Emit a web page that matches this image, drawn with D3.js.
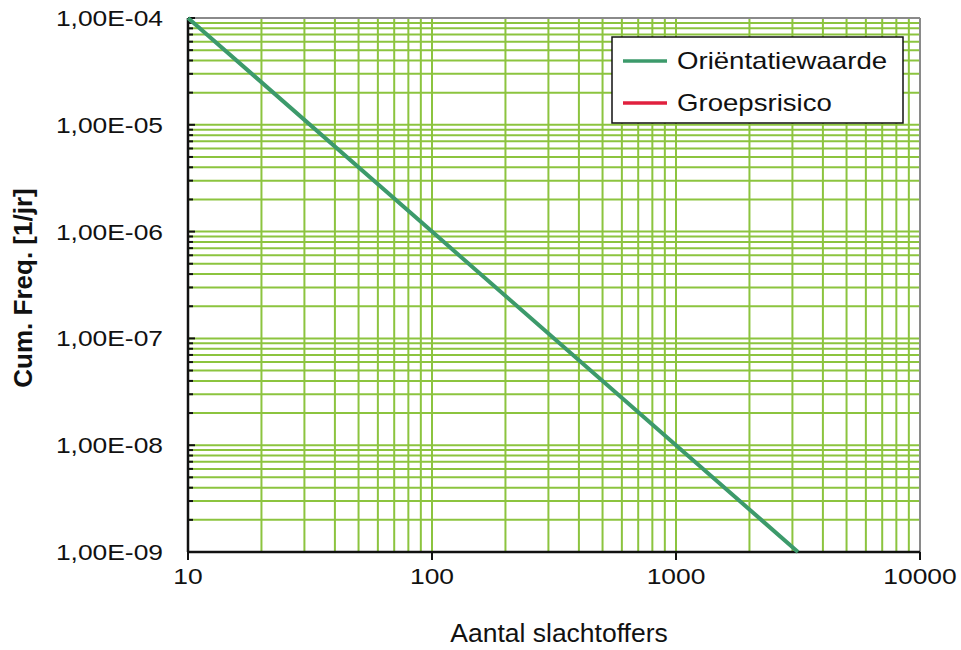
<!DOCTYPE html>
<html>
<head>
<meta charset="utf-8">
<script src="https://cdn.jsdelivr.net/npm/d3@7"></script>
<style>
  body { margin: 0; background: #fff; }
  text { font-family: "Liberation Sans", Arial, sans-serif; }
</style>
</head>
<body>
<div id="chart"></div>
<script>
// Chart data
const slachtoffers = [10, 100, 1000, 3162];
const orientatieFreq = [1e-4, 1e-6, 1e-8, 1e-9];
const groepsrisicoFreq = []; // no points visible in the chart
const xTicks = [10, 100, 1000, 10000];
const yTicks = [1e-4, 1e-5, 1e-6, 1e-7, 1e-8, 1e-9];
const seriesNames = ["Oriëntatiewaarde", "Groepsrisico"];
const seriesColors = ["#3c9a6b", "#e0203e"];

const margin = { top: 18, right: 41, bottom: 98, left: 188 },
    totalW = 961, totalH = 650,
    width = totalW - margin.left - margin.right,
    height = totalH - margin.top - margin.bottom;

const svg = d3.select("#chart")
    .append("svg")
    .attr("width", totalW)
    .attr("height", totalH)
    .append("g")
    .attr("transform", `translate(${margin.left},${margin.top})`);

const x = d3.scaleLog().domain([10, 10000]).range([0, width]);
const y = d3.scaleLog().domain([1e-9, 1e-4]).range([height, 0]);

// the scanned chart has slightly wide text, stretch it a bit
function addText(parent, px, py, str, size, sx, anchor) {
    return parent.append("text")
        .attr("transform", `translate(${px},${py}) scale(${sx},1)`)
        .attr("text-anchor", anchor)
        .style("font-size", size + "px")
        .attr("fill", "#111")
        .text(str);
}

// minor + major grid values
const xGrid = [];
for (let d = 10; d < 10000; d *= 10) for (let k = 1; k <= 9; k++) xGrid.push(d * k);
const yGrid = [];
for (let e = -9; e < -4; e++) for (let k = 1; k <= 9; k++) yGrid.push(k * Math.pow(10, e));

const gridColor = "#8cc43f";

svg.append("g").selectAll("line")
    .data(xGrid.filter(v => v > 10))
    .join("line")
    .attr("x1", d => x(d)).attr("x2", d => x(d))
    .attr("y1", 0).attr("y2", height)
    .attr("stroke", gridColor)
    .attr("stroke-width", 2);

svg.append("g").selectAll("line")
    .data(yGrid.filter(v => v > 1.01e-9))
    .join("line")
    .attr("x1", 0).attr("x2", width)
    .attr("y1", d => y(d)).attr("y2", d => y(d))
    .attr("stroke", gridColor)
    .attr("stroke-width", 2);

// frame: top and right in grey
svg.append("line").attr("x1", 0).attr("x2", width).attr("y1", 0).attr("y2", 0)
    .attr("stroke", "#8a8a8a").attr("stroke-width", 2);
svg.append("line").attr("x1", width).attr("x2", width).attr("y1", 0).attr("y2", height)
    .attr("stroke", "#8a8a8a").attr("stroke-width", 2);

// Y axis: inward ticks, major longer
svg.append("g").selectAll("line")
    .data(yGrid.concat([1e-4]))
    .join("line")
    .attr("x1", 0)
    .attr("x2", d => yTicks.some(t => Math.abs(t - d) / t < 1e-6) ? 7 : 5)
    .attr("y1", d => y(d)).attr("y2", d => y(d))
    .attr("stroke", "#111")
    .attr("stroke-width", 2);

svg.append("line").attr("x1", 0).attr("x2", 0).attr("y1", 0).attr("y2", height)
    .attr("stroke", "#111").attr("stroke-width", 2.5);

yTicks.forEach(t => {
    const lbl = "1,00E-" + String(-Math.round(Math.log10(t))).padStart(2, "0");
    addText(svg, -25, y(t) + 8, lbl, 22, 1.2, "end");
});

// X axis: outward major ticks
svg.append("line").attr("x1", 0).attr("x2", width).attr("y1", height).attr("y2", height)
    .attr("stroke", "#111").attr("stroke-width", 2.5);

svg.append("g").selectAll("line")
    .data(xTicks)
    .join("line")
    .attr("x1", d => x(d)).attr("x2", d => x(d))
    .attr("y1", height).attr("y2", height + 8)
    .attr("stroke", "#111")
    .attr("stroke-width", 2);

xTicks.forEach(t => addText(svg, x(t), height + 32, t, 22, 1.2, "middle"));

// Series line
const line = d3.line()
    .x(d => x(d[0]))
    .y(d => y(d[1]));

svg.append("path")
    .datum(slachtoffers.map((n, i) => [n, orientatieFreq[i]]))
    .attr("fill", "none")
    .attr("stroke", seriesColors[0])
    .attr("stroke-width", 4)
    .attr("d", line);

// Axis titles
addText(svg, 371, height + 90, "Aantal slachtoffers", 25, 1.06, "middle");

svg.append("text")
    .attr("transform", "rotate(-90)")
    .attr("x", -270)
    .attr("y", -156)
    .attr("text-anchor", "middle")
    .style("font-size", "26px")
    .style("font-weight", "bold")
    .attr("fill", "#111")
    .text("Cum. Freq. [1/jr]");

// Legend
const legend = svg.append("g").attr("transform", `translate(${612 - margin.left},${37 - margin.top})`);
legend.append("rect")
    .attr("width", 291).attr("height", 86)
    .attr("fill", "#fff")
    .attr("stroke", "#111")
    .attr("stroke-width", 1.5);

seriesNames.forEach((name, i) => {
    const yy = 24 + i * 42;
    legend.append("line")
        .attr("x1", 11).attr("x2", 55)
        .attr("y1", yy).attr("y2", yy)
        .attr("stroke", seriesColors[i])
        .attr("stroke-width", 3.5);
    addText(legend, 65, yy + 8, name, 23, 1.2, "start");
});
</script>
</body>
</html>
